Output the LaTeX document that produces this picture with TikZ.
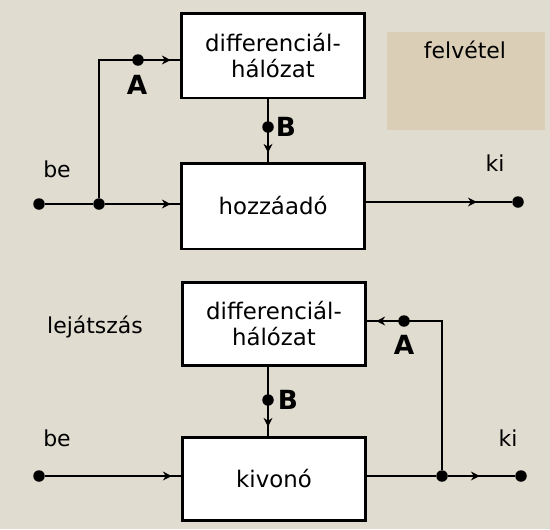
\documentclass[tikz,border=0pt]{standalone}
\usepackage{fontspec}
\setmainfont{DejaVu Sans}
\usetikzlibrary{arrows.meta,decorations.markings}
\definecolor{paper}{RGB}{224,221,208}
\definecolor{patch}{RGB}{218,206,182}
\tikzstyle{block}=[rectangle,draw=black,fill=white,line width=1.7pt,align=center,
  minimum width=3.68cm,minimum height=1.7cm,font=\fontsize{13}{15}\selectfont]
\tikzstyle{dot}=[circle,fill=black,inner sep=0pt,minimum size=0.23cm]
\tikzstyle{wire}=[line width=1.4pt]
\tikzstyle{flow}=[postaction={decorate},decoration={markings,
  mark=at position #1 with {\arrow{Stealth[length=5pt,width=5pt]}}}]
\tikzstyle{txt}=[font=\fontsize{12.5}{15}\selectfont]
\tikzstyle{pt}=[font=\fontsize{15}{17}\selectfont\bfseries]

\begin{document}
\begin{tikzpicture}[x=0.02cm,y=-0.02cm]
  \fill[paper] (0,0) rectangle (550,529);
  \fill[patch] (387,32) rectangle (545,130);
  \useasboundingbox (0,0) rectangle (550,529);

  % felvetel
  \node[block] (diff1) at (273,55.5) {differenciál-\\hálózat};
  \node[block, minimum height=1.72cm] (sum) at (273,206) {hozzáadó};
  \node[dot] (in1) at (39,204) {};
  \node[dot] (j1) at (99,204) {};
  \coordinate (c1) at (99,60);
  \node[dot] (a1) at (138,60) {};
  \node[dot] (b1) at (268,127) {};
  \node[dot] (out1) at (518,202) {};

  \draw[wire] (in1) -- (j1);
  \draw[wire,flow=-5pt] (j1) -- (sum.west |- j1);
  \draw[wire,flow=-5pt] (j1) -- (c1) -- (diff1.west |- c1);
  \draw[wire,flow=-5pt] (diff1.south -| b1) -- (sum.north -| b1);
  \draw[wire,flow=-20pt] (sum.east |- out1) -- (out1);

  % lejatszas
  \node[block, minimum height=1.66cm] (diff2) at (274,323.5) {differenciál-\\hálózat};
  \node[block, minimum height=1.66cm] (sub) at (274,478.5) {kivonó};
  \node[dot] (in2) at (39,476) {};
  \node[dot] (j2) at (442,476) {};
  \coordinate (c2) at (442,321);
  \node[dot] (a2) at (404,321) {};
  \node[dot] (b2) at (268,400) {};
  \node[dot] (out2) at (521,476) {};

  \draw[wire,flow=-5pt] (in2) -- (sub.west |- in2);
  \draw[wire,flow=-20pt] (sub.east |- j2) -- (j2) -- (out2);
  \draw[wire,flow=-5pt] (j2) -- (c2) -- (diff2.east |- c2);
  \draw[wire,flow=-5pt] (diff2.south -| b2) -- (sub.north -| b2);

  % labels
  \foreach \name/\pos/\text in {lbe1/{57,169}/be, lki1/{495,163}/ki, lrec/{465,50}/felvétel,
      lplay/{95,327}/lejátszás, lbe2/{57,438}/be, lki2/{508,438}/ki} {
    \node[txt] (\name) at (\pos) {\text};
  }
  \node[pt] (la1) at (137,85) {A};
  \node[pt] (lb1) at (286,127) {B};
  \node[pt] (la2) at (404,345) {A};
  \node[pt] (lb2) at (288,400) {B};
\end{tikzpicture}
\end{document}
